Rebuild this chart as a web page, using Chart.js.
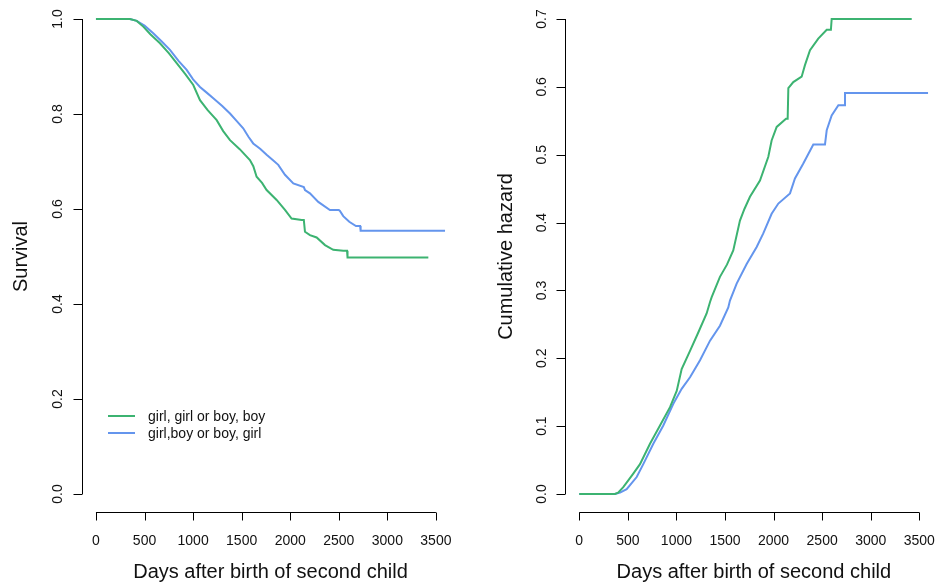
<!DOCTYPE html>
<html>
<head>
<meta charset="UTF-8">
<title>Survival and cumulative hazard by sex of first two children</title>
<script src="https://cdn.jsdelivr.net/npm/chart.js"></script>
<style>
  html, body { margin: 0; padding: 0; background: #fff; overflow: hidden; }
  body { width: 935px; height: 583px; position: relative; }
  canvas { position: absolute; top: 0; }
  #survChart { left: 0; }
  #hazChart { left: 468px; }
</style>
</head>
<body>
<canvas id="survChart" width="468" height="583"></canvas>
<canvas id="hazChart" width="480" height="583"></canvas>
<script>
// groups: same-sex first two children vs mixed
const groupLabels = ['girl, girl or boy, boy', 'girl,boy or boy, girl'];
const groupColors = ['#3cb371', '#6495ed'];

const xTicks = [0, 500, 1000, 1500, 2000, 2500, 3000, 3500];
const survTicks = [0, 0.2, 0.4, 0.6, 0.8, 1.0];
const hazTicks = [0, 0.1, 0.2, 0.3, 0.4, 0.5, 0.6, 0.7];
const xTitle = 'Days after birth of second child';

// Kaplan-Meier survival, same sex
const survTimeA = [0, 350, 420, 487, 560, 659, 750, 831, 920, 1002, 1071, 1150, 1243, 1310, 1380, 1480, 1585, 1620, 1654, 1710, 1757, 1860, 1946, 2014, 2118, 2140, 2152, 2203, 2272, 2358, 2443, 2546, 2585, 2590, 3422];
const survA = [1, 1, 0.996, 0.984, 0.968, 0.949, 0.928, 0.907, 0.884, 0.861, 0.829, 0.808, 0.787, 0.764, 0.745, 0.726, 0.703, 0.690, 0.668, 0.655, 0.640, 0.619, 0.598, 0.580, 0.577, 0.577, 0.552, 0.545, 0.540, 0.524, 0.514, 0.512, 0.512, 0.498, 0.498];

// Kaplan-Meier survival, mixed sex
const survTimeB = [0, 350, 419, 500, 590, 680, 762, 850, 934, 1000, 1071, 1140, 1208, 1300, 1380, 1450, 1516, 1570, 1619, 1690, 1757, 1820, 1877, 1946, 2032, 2140, 2152, 2203, 2289, 2409, 2500, 2512, 2546, 2608, 2677, 2720, 2725, 3594];
const survB = [1, 1, 0.996, 0.986, 0.970, 0.952, 0.935, 0.912, 0.893, 0.873, 0.857, 0.845, 0.833, 0.817, 0.801, 0.785, 0.770, 0.752, 0.738, 0.727, 0.714, 0.703, 0.693, 0.672, 0.654, 0.646, 0.640, 0.633, 0.615, 0.598, 0.598, 0.596, 0.585, 0.573, 0.564, 0.564, 0.554, 0.554];

// cumulative hazard, same sex
const hazTimeA = [0, 367, 400, 453, 556, 625, 728, 831, 934, 1003, 1054, 1140, 1225, 1311, 1346, 1363, 1448, 1520, 1585, 1654, 1700, 1757, 1860, 1946, 1980, 2032, 2128, 2145, 2152, 2203, 2289, 2323, 2375, 2460, 2547, 2590, 2598, 3422];
const hazA = [0, 0, 0.002, 0.010, 0.030, 0.044, 0.074, 0.101, 0.128, 0.152, 0.184, 0.211, 0.238, 0.266, 0.283, 0.290, 0.320, 0.338, 0.359, 0.403, 0.420, 0.438, 0.462, 0.497, 0.521, 0.541, 0.553, 0.553, 0.598, 0.607, 0.615, 0.632, 0.654, 0.671, 0.684, 0.684, 0.700, 0.700];

// cumulative hazard, mixed sex
const hazTimeB = [0, 367, 420, 488, 591, 659, 762, 865, 968, 1054, 1140, 1243, 1346, 1448, 1534, 1551, 1620, 1723, 1826, 1894, 1980, 2049, 2169, 2220, 2306, 2409, 2529, 2547, 2598, 2667, 2730, 2735, 3590];
const hazB = [0, 0, 0.002, 0.007, 0.025, 0.044, 0.074, 0.101, 0.133, 0.155, 0.172, 0.197, 0.226, 0.248, 0.275, 0.285, 0.310, 0.339, 0.364, 0.384, 0.413, 0.428, 0.443, 0.465, 0.487, 0.515, 0.515, 0.536, 0.558, 0.573, 0.573, 0.591, 0.591];

const FONT = '"Liberation Sans", Arial, Helvetica, sans-serif';
const TEXT = '#111';

function pts(ts, vs) {
  return ts.map((t, i) => ({ x: t, y: vs[i] }));
}

function dataset(i, ts, vs) {
  return {
    label: groupLabels[i],
    data: pts(ts, vs),
    borderColor: groupColors[i],
    borderWidth: 2,
    pointRadius: 0,
    tension: 0,
    fill: false
  };
}

// R-style padded range (4% each side)
function padded(lo, hi) {
  const d = (hi - lo) * 0.04;
  return { min: lo - d, max: hi + d };
}

const tMax = Math.max(survTimeA[survTimeA.length - 1], survTimeB[survTimeB.length - 1]);
const xRange = padded(0, tMax);

// base-graphics look: detached axes, rotated y labels
function rAxes(yTicks, yTitle, yLabelX, yTitleX) {
  return {
    id: 'rAxes',
    afterDraw(chart) {
      const ctx = chart.ctx;
      const xs = chart.scales.x, ys = chart.scales.y;
      const area = chart.chartArea;
      ctx.save();
      ctx.strokeStyle = '#000';
      ctx.lineWidth = 1;
      ctx.fillStyle = TEXT;

      // x axis
      const ay = Math.round(area.bottom) - 0.5;
      const x0 = xs.getPixelForValue(xTicks[0]);
      const x1 = xs.getPixelForValue(xTicks[xTicks.length - 1]);
      ctx.beginPath();
      ctx.moveTo(x0, ay); ctx.lineTo(x1, ay);
      xTicks.forEach(v => {
        const px = Math.round(xs.getPixelForValue(v)) + 0.5;
        ctx.moveTo(px, ay); ctx.lineTo(px, ay + 8);
      });
      ctx.stroke();
      ctx.font = '14px ' + FONT;
      ctx.textAlign = 'center';
      ctx.textBaseline = 'alphabetic';
      xTicks.forEach(v => ctx.fillText(String(v), xs.getPixelForValue(v), 545));
      ctx.font = '20px ' + FONT;
      ctx.fillText(xTitle, (area.left + area.right) / 2, 578);

      // y axis
      const ax = Math.round(area.left) + 0.5;
      const yb = ys.getPixelForValue(yTicks[0]);
      const yt = ys.getPixelForValue(yTicks[yTicks.length - 1]);
      ctx.beginPath();
      ctx.moveTo(ax, yb); ctx.lineTo(ax, yt);
      yTicks.forEach(v => {
        const py = Math.round(ys.getPixelForValue(v)) + 0.5;
        ctx.moveTo(ax, py); ctx.lineTo(ax - 9, py);
      });
      ctx.stroke();
      ctx.font = '14px ' + FONT;
      yTicks.forEach(v => {
        ctx.save();
        ctx.translate(yLabelX, ys.getPixelForValue(v));
        ctx.rotate(-Math.PI / 2);
        ctx.fillText(v.toFixed(1), 0, 0);
        ctx.restore();
      });
      ctx.save();
      ctx.font = '20px ' + FONT;
      ctx.translate(yTitleX, (area.top + area.bottom) / 2);
      ctx.rotate(-Math.PI / 2);
      ctx.fillText(yTitle, 0, 0);
      ctx.restore();
      ctx.restore();
    }
  };
}

// boxless legend inside the survival panel
const rLegend = {
  id: 'rLegend',
  afterDraw(chart) {
    const ctx = chart.ctx;
    ctx.save();
    ctx.font = '14px ' + FONT;
    ctx.textBaseline = 'middle';
    ctx.textAlign = 'left';
    chart.data.datasets.forEach((ds, i) => {
      const y = 416 + i * 17;
      ctx.strokeStyle = ds.borderColor;
      ctx.lineWidth = 2;
      ctx.beginPath();
      ctx.moveTo(108, y); ctx.lineTo(135, y);
      ctx.stroke();
      ctx.fillStyle = TEXT;
      ctx.fillText(ds.label, 148, y + 1);
    });
    ctx.restore();
  }
};

function makeChart(id, datasets, yRange, padding, plugins) {
  return new Chart(document.getElementById(id), {
    type: 'line',
    data: { datasets: datasets },
    options: {
      responsive: false,
      animation: false,
      layout: { padding: padding },
      plugins: { legend: { display: false }, tooltip: { enabled: false } },
      scales: {
        x: { type: 'linear', display: false, min: xRange.min, max: xRange.max },
        y: { type: 'linear', display: false, min: yRange.min, max: yRange.max }
      }
    },
    plugins: plugins
  });
}

makeChart('survChart',
  [dataset(0, survTimeA, survA), dataset(1, survTimeB, survB)],
  padded(0, 1),
  { left: 82, right: 9, top: 0, bottom: 70 },
  [rAxes(survTicks, 'Survival', 62, 26.7), rLegend]);

makeChart('hazChart',
  [dataset(0, hazTimeA, hazA), dataset(1, hazTimeB, hazB)],
  padded(0, Math.max(...hazA, ...hazB)),
  { left: 97.3, right: 5.6, top: 0, bottom: 70 },
  [rAxes(hazTicks, 'Cumulative hazard', 78, 43.5)]);
</script>
</body>
</html>
